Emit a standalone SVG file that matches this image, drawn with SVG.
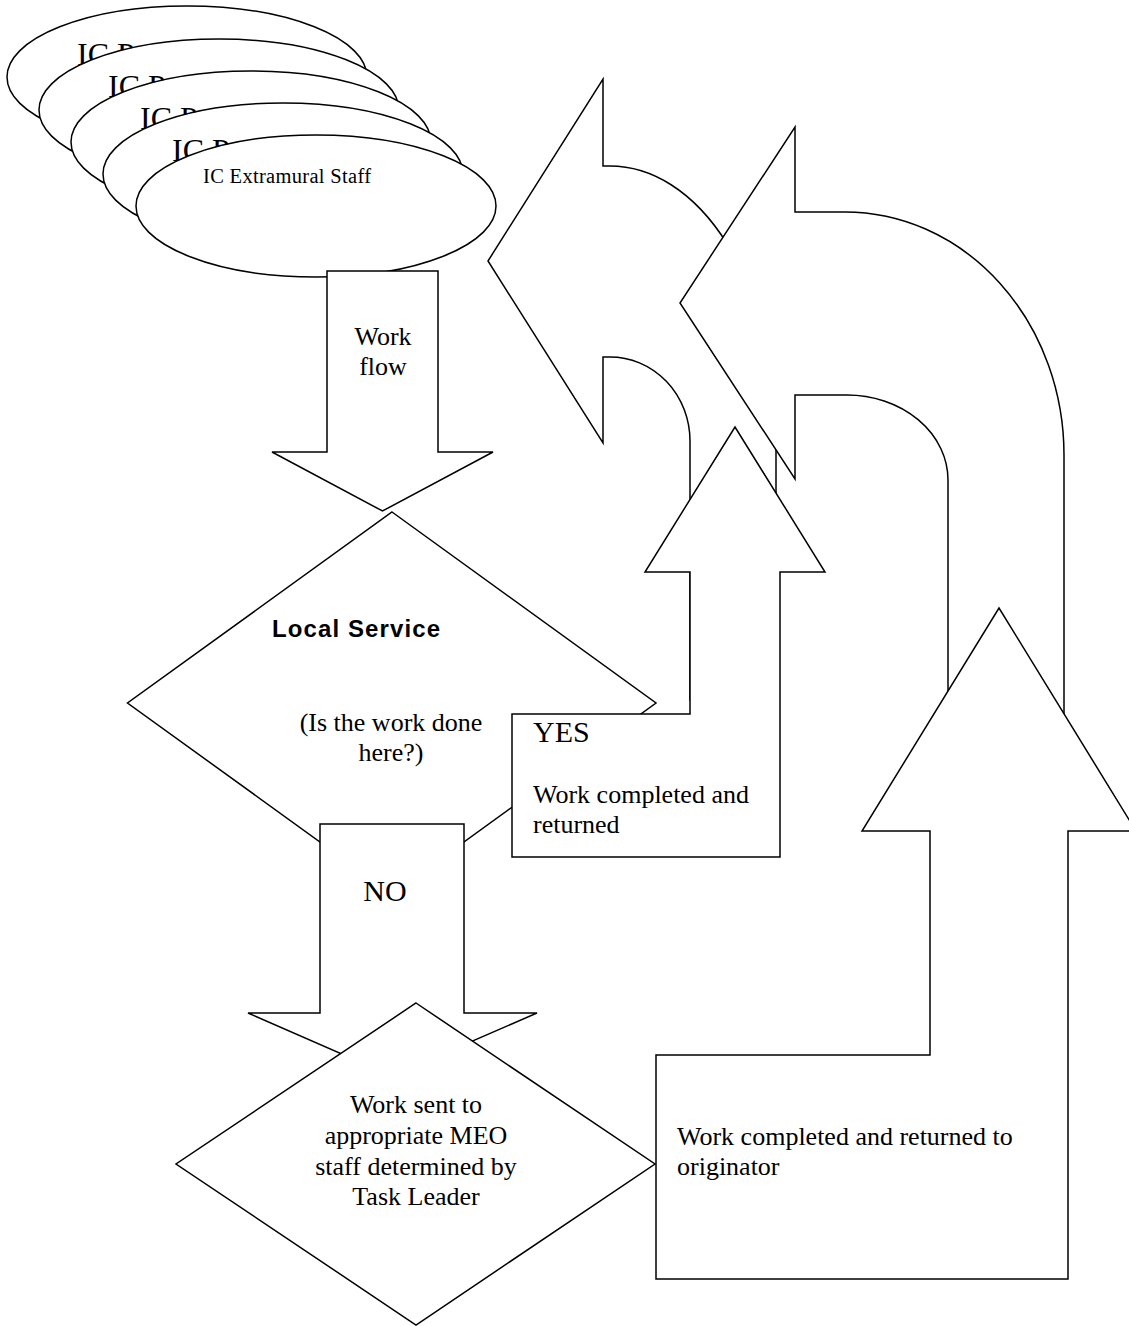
<svg xmlns="http://www.w3.org/2000/svg" width="1129" height="1326" viewBox="0 0 1129 1326">
<style>
.s{fill:#fff;stroke:#000;stroke-width:1.5;stroke-linejoin:miter}
.t{font-family:"Liberation Serif","Times New Roman",serif;fill:#000}
.b{font-family:"Liberation Sans",Arial,sans-serif;font-weight:bold;fill:#000}
</style>
<rect width="1129" height="1326" fill="#fff"/>
<g id="staff1"><ellipse class="s" cx="187" cy="77" rx="180" ry="71"/><text class="t" x="77" y="65" font-size="32">IC P</text></g>
<g id="staff2"><ellipse class="s" cx="219" cy="110" rx="180" ry="71"/><text class="t" x="108" y="97" font-size="32">IC P</text></g>
<g id="staff3"><ellipse class="s" cx="251" cy="142" rx="180" ry="71"/><text class="t" x="140" y="129" font-size="32">IC P</text></g>
<g id="staff4"><ellipse class="s" cx="283" cy="174" rx="180" ry="71"/><text class="t" x="172" y="161" font-size="32">IC P</text></g>
<g id="staff5"><ellipse class="s" cx="316" cy="206" rx="180" ry="71"/><text class="t" x="203" y="183" font-size="20.5" textLength="168">IC Extramural Staff</text></g>
<g id="arrow-workflow" class="connector">
<polygon class="s" points="327,271 438,271 438,452 493,452 382.5,511 272,452 327,452"/>
<text class="t" x="383" y="345" font-size="26" text-anchor="middle">Work</text>
<text class="t" x="383" y="375" font-size="26" text-anchor="middle">flow</text>
</g>
<g id="return-arrow-local" class="connector">
<path class="s" d="M603,79 L603,166 L610,166 A166,267 0 0 1 776,433 L776,700 L690,700 L690,441 A80,84 0 0 0 610,357 L603,357 L603,443 L488,261 Z"/>
</g>
<g id="return-arrow-meo" class="connector">
<path class="s" d="M795,127 L795,212 L845,212 A219,243 0 0 1 1064,455 L1064,900 L948,900 L948,480 A101,85 0 0 0 847,395 L795,395 L795,479 L680,303 Z"/>
</g>
<g id="local-service">
<polygon class="s" points="392,512 656,703 392,894 127.5,703"/>
<text class="b" x="272" y="637" font-size="24" textLength="168">Local Service</text>
<text class="t" x="391" y="731" font-size="26" text-anchor="middle">(Is the work done</text>
<text class="t" x="391" y="761" font-size="26" text-anchor="middle">here?)</text>
</g>
<g id="yes-branch">
<polygon class="s" points="512,714 690,714 690,572 645,572 735,427 825,572 780,572 780,857 512,857"/>
<text class="t" x="533" y="742" font-size="30">YES</text>
<text class="t" x="533" y="803" font-size="26">Work completed and</text>
<text class="t" x="533" y="833" font-size="26">returned</text>
</g>
<g id="arrow-no" class="connector">
<polygon class="s" points="320,824 464,824 464,1013 537,1013 392,1076 248,1013 320,1013"/>
<text class="t" x="385" y="901" font-size="30" text-anchor="middle">NO</text>
</g>
<g id="meo-staff">
<polygon class="s" points="416,1003 655,1164 416,1325 176,1164"/>
<text class="t" x="416" y="1113" font-size="26" text-anchor="middle">Work sent to</text>
<text class="t" x="416" y="1144" font-size="26" text-anchor="middle">appropriate MEO</text>
<text class="t" x="416" y="1175" font-size="26" text-anchor="middle">staff determined by</text>
<text class="t" x="416" y="1205" font-size="26" text-anchor="middle">Task Leader</text>
</g>
<g id="return-originator">
<polygon class="s" points="656,1055 930,1055 930,831 862,831 999,608 1136,831 1068,831 1068,1279 656,1279"/>
<text class="t" x="677" y="1145" font-size="26">Work completed and returned to</text>
<text class="t" x="677" y="1175" font-size="26">originator</text>
</g>
</svg>
